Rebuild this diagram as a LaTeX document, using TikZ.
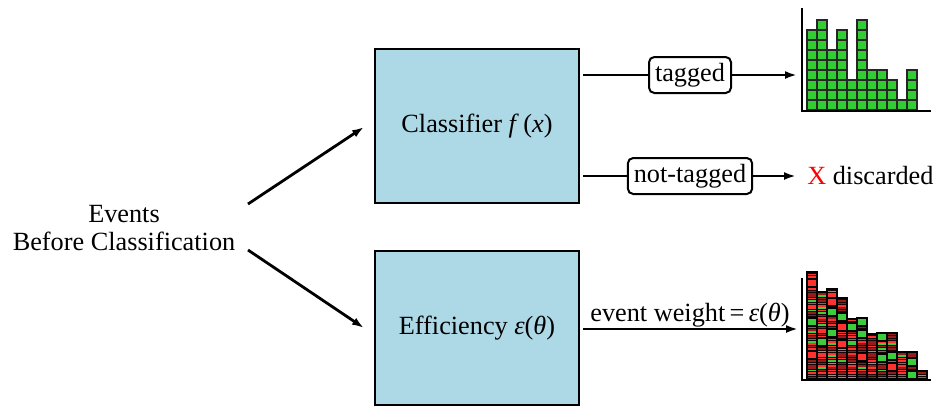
\documentclass[tikz,border=0pt]{standalone}
\usepackage{fontspec}
\setmainfont{Liberation Serif}
\usetikzlibrary{arrows.meta}
\definecolor{boxblue}{RGB}{173,216,230}
\definecolor{hgreen}{RGB}{50,205,50}
\definecolor{sred}{RGB}{255,50,50}
\definecolor{dred}{RGB}{150,28,28}
\definecolor{sgreen}{RGB}{60,205,60}
\definecolor{hbg}{RGB}{25,5,5}
\tikzset{
  bigbox/.style={draw=black, line width=1.6pt, fill=boxblue, minimum width=153pt, minimum height=115.5pt, inner sep=0pt},
  tagbox/.style={draw=black, line width=1.5pt, fill=white, rounded corners=4pt, inner xsep=4.5pt, inner ysep=2pt, minimum height=27pt},
  conn/.style={line width=2.1pt},
  arr/.style={line width=2.1pt, -{Latex[length=9pt,width=6pt]}},
  axis/.style={line width=2pt},
  gcell/.style={fill=hgreen, draw=black!85, line width=1pt},
  bigcell/.style={draw=black, line width=0.8pt},
}
\newcommand{\mi}[1]{\textit{#1}}
\begin{document}
\begin{tikzpicture}[x=0.75pt,y=-0.75pt, font=\fontsize{19.7}{21}\selectfont]
\useasboundingbox (0,0) rectangle (934,405);

% boxes
\node[bigbox] (cls) at (477,126) {Classifier \mi{f}\,(\mi{x})};
\node[bigbox] (eff) at (477,328) {Efficiency \mi{ε}(\mi{θ})};

% events
\node[align=center, inner sep=0pt] (ev) at (124,228) {Events\\Before Classification};
\coordinate (ev1) at (248,204);
\coordinate (ev2) at (248,250);
\coordinate (c1) at (364,127);
\coordinate (e1) at (364,328);
\draw[arr] (ev1) -- (c1);
\draw[arr] (ev2) -- (e1);

% tagged
\coordinate (t0) at (583,75);
\coordinate (t1) at (797,75);
\node[tagbox] (tag) at (690,75) {tagged};
\draw[conn] (t0) -- (tag.west);
\draw[arr] (tag.east) -- (t1);

% not tagged
\coordinate (n0) at (583,176);
\coordinate (n1) at (796,176);
\node[tagbox] (ntag) at (690,176) {not-tagged};
\draw[conn] (n0) -- (ntag.west);
\draw[arr] (ntag.east) -- (n1);
\node[anchor=west, inner sep=0pt] (disc) at (807,176) {\textcolor{red}{X} discarded};

% event weight
\coordinate (w0) at (583,329);
\coordinate (w1) at (798,329);
\draw[arr] (w0) -- (w1);
\node[anchor=base, inner sep=0pt] (ew) at (690,321) {event weight\,=\,\mi{ε}(\mi{θ})};

% green histogram
\foreach \i/\n in {0/8,1/9,2/6,3/8,4/3,5/9,6/4,7/4,8/3,9/1,10/4} {
  \foreach \k in {1,...,\n} {
    \draw[gcell] (807+10*\i, 110-10*\k) rectangle ++(10,10);
  }
}
\coordinate (ga) at (802,8);
\coordinate (go) at (802,111);
\coordinate (gx) at (931,111);
\draw[axis] (ga) -- (go) -- (gx);

% red/green histogram
\pgfmathsetseed{12}
\foreach \i/\t in {0/272,1/292,2/289,3/298,4/319,5/318,6/334,7/333,8/333,9/352,10/352,11/371} {
  \pgfmathsetmacro\xl{807+10*\i}
  \fill[hbg] (\xl,\t) rectangle (\xl+10,379);
  \pgfmathtruncatemacro\nst{(379-\t)/2.4}
  \foreach \k in {1,...,\nst} {
    \pgfmathrandominteger{\rr}{0}{19}
    \ifnum\rr<9 \def\stc{sred}\else\ifnum\rr<17 \def\stc{dred}\else\def\stc{sgreen}\fi\fi
    \fill[\stc] (\xl+0.5, 379-\k*2.4+0.3) rectangle (\xl+9.5, 379-\k*2.4+2.0);
  }
  \draw[black, line width=0.8pt] (\xl,\t) rectangle (\xl+10,379);
}
\foreach \i/\a/\c in {0/279/sred,0/318/sgreen,0/351/sred,1/338/sgreen,2/298/sred,2/308/sgreen,2/329/sgreen,
  3/313/sgreen,3/323/sred,3/340/sred,4/323/sgreen,5/318/sgreen,5/330/sgreen,5/353/sred,
  7/333/sgreen,7/354/sgreen,8/352/sgreen,8/363/sred,10/358/sgreen,10/371/sgreen} {
  \draw[bigcell, fill=\c] (807+10*\i,\a) rectangle ++(10,8);
}
\coordinate (ra) at (802,278);
\coordinate (ro) at (802,380);
\coordinate (rx) at (931,380);
\draw[axis] (ra) -- (ro) -- (rx);
\end{tikzpicture}
\end{document}
